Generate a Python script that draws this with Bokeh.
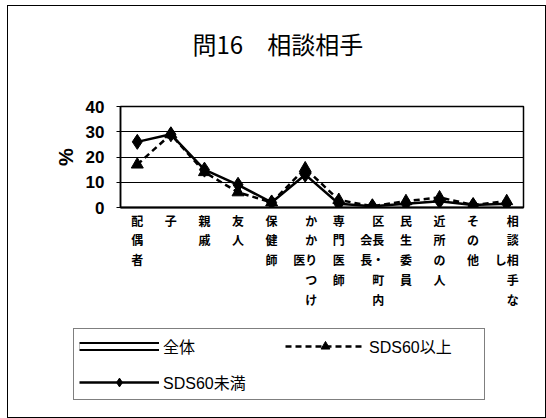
from bokeh.plotting import figure
from bokeh.layouts import column
from bokeh.models import (FactorRange, Range1d, FixedTicker, Legend, LegendItem, Label,
                          ColumnDataSource)
from bokeh.embed import file_html
from bokeh.resources import INLINE

categories = ["配偶者", "子", "親戚", "友人", "保健師", "かかりつけ医", "専門医師",
              "区長・町内会長", "民生委員", "近所の人", "その他", "相談相手なし"]
tick_labels = ["配\n偶\n者", "子", "親\n戚", "友\n人", "保\n健\n師",
               "　か\n　か\n医り\n　つ\n　け", "専\n門\n医\n師",
               "　区\n会長\n長・\n　町\n　内", "民\n生\n委\n員", "近\n所\nの\n人",
               "そ\nの\n他", "　相\n　談\nし相\n　手\n　な"]
under60 = [26, 29, 15, 9, 2, 13, 1.5, 0.5, 1.5, 2.5, 1, 1.5]
over60 = [17, 29, 14, 6, 2, 15.5, 3, 0.5, 2.5, 4, 1, 2.5]
y_ticks = [0, 10, 20, 30, 40]
series_names = ["全体", "SDS60未満", "SDS60以上"]
chart_title = "問16　相談相手"

LAT = "'Liberation Sans', 'Noto Sans CJK JP'"
CJK = "'Noto Sans CJK JP'"
W = 537
LB, RB = 112, 22

# ---- title strip ----
ts = figure(width=W, height=90, x_range=Range1d(LB, W - RB), y_range=Range1d(90, 0),
            x_axis_type=None, y_axis_type=None, output_backend="svg", toolbar_location=None,
            min_border_left=LB, min_border_right=RB, min_border_top=0, min_border_bottom=0)
ts.outline_line_color = None
ts.add_layout(Label(x=184, y=37, text=chart_title, text_font=CJK, text_font_size="24px",
                    text_baseline="middle", text_align="left", text_color="black"))

# ---- main chart ----
src = ColumnDataSource(dict(x=tick_labels, u=under60, o=over60))
p = figure(width=W, height=230, x_range=FactorRange(*tick_labels), y_range=Range1d(0, 40),
           output_backend="svg", toolbar_location=None,
           min_border_left=LB, min_border_right=RB, min_border_top=10, min_border_bottom=119)

p.outline_line_color = "black"
p.outline_line_width = 1.5
p.xgrid.grid_line_color = None
p.ygrid.grid_line_color = "black"
p.ygrid.grid_line_width = 1
p.ygrid.ticker = FixedTicker(ticks=[10, 20, 30])

p.yaxis.ticker = FixedTicker(ticks=y_ticks)
p.yaxis.major_label_text_font = LAT
p.yaxis.major_label_text_font_style = "bold"
p.yaxis.major_label_text_font_size = "17px"
p.yaxis.major_label_text_color = "black"
p.yaxis.axis_line_color = "black"
p.yaxis.axis_line_width = 1.5
p.yaxis.major_tick_out = 4
p.yaxis.major_tick_in = 0
p.yaxis.minor_tick_line_color = None
p.yaxis.major_label_standoff = 12
p.yaxis.axis_label = "%"
p.yaxis.axis_label_text_font = LAT
p.yaxis.axis_label_text_font_style = "bold"
p.yaxis.axis_label_text_font_size = "20px"
p.yaxis.axis_label_text_color = "black"
p.yaxis.axis_label_standoff = 6

p.xaxis.major_label_text_font = CJK
p.xaxis.major_label_text_font_style = "bold"
p.xaxis.major_label_text_font_size = "12px"
p.xaxis.major_label_text_line_height = 1.17
p.xaxis.major_label_text_color = "black"
p.xaxis.major_label_standoff = -2
p.xaxis.major_tick_line_color = None
p.xaxis.axis_line_color = "black"
p.xaxis.axis_line_width = 2

p.line("x", "u", source=src, line_color="black", line_width=2.5)
p.scatter("x", "u", source=src, marker="diamond", size=15, fill_color="black", line_color="black")
p.line("x", "o", source=src, line_color="black", line_width=2.5, line_dash="6 4")
p.scatter("x", "o", source=src, marker="triangle", size=12, fill_color="black", line_color="black")

# ---- legend strip ----
can_unalign = "frame_align" in p.properties()
lg = figure(width=W, height=91, x_range=Range1d(0, 1), y_range=Range1d(0, 1),
            x_axis_type=None, y_axis_type=None, output_backend="svg", toolbar_location=None,
            min_border=0)
lg.outline_line_color = None
if can_unalign:
    lg.frame_align = False
    legend_x = 65
else:
    legend_x = 65 - LB
nan = float("nan")
dummy = ColumnDataSource(dict(x=[nan], y=[nan]))
a1 = lg.line("x", "y", source=dummy, line_color="black", line_width=9)
a2 = lg.line("x", "y", source=dummy, line_color="white", line_width=5)
u1 = lg.line("x", "y", source=dummy, line_color="black", line_width=2.5)
u2 = lg.scatter("x", "y", source=dummy, marker="diamond", size=15, fill_color="black", line_color="black")
o1 = lg.line("x", "y", source=dummy, line_color="black", line_width=2.5, line_dash="6 4")
o2 = lg.scatter("x", "y", source=dummy, marker="triangle", size=12, fill_color="black", line_color="black")

legend = Legend(items=[LegendItem(label=series_names[0], renderers=[a1, a2]),
                       LegendItem(label=series_names[1], renderers=[u1, u2]),
                       LegendItem(label=series_names[2], renderers=[o1, o2])],
                location=(legend_x, 17), orientation="vertical", nrows=2,
                glyph_width=80, glyph_height=22, label_height=22, label_width=110,
                spacing=12, padding=5, margin=0, label_standoff=4,
                label_text_font=LAT, label_text_font_size="16px", label_text_color="black",
                border_line_color="black", border_line_width=1.5, background_fill_alpha=1)
lg.add_layout(legend, "center")

layout = column(ts, p, lg, spacing=0,
                styles={"margin-left": "7px", "margin-top": "5px", "border": "1px solid black"})

open("out.html", "w").write(file_html(layout, INLINE))
